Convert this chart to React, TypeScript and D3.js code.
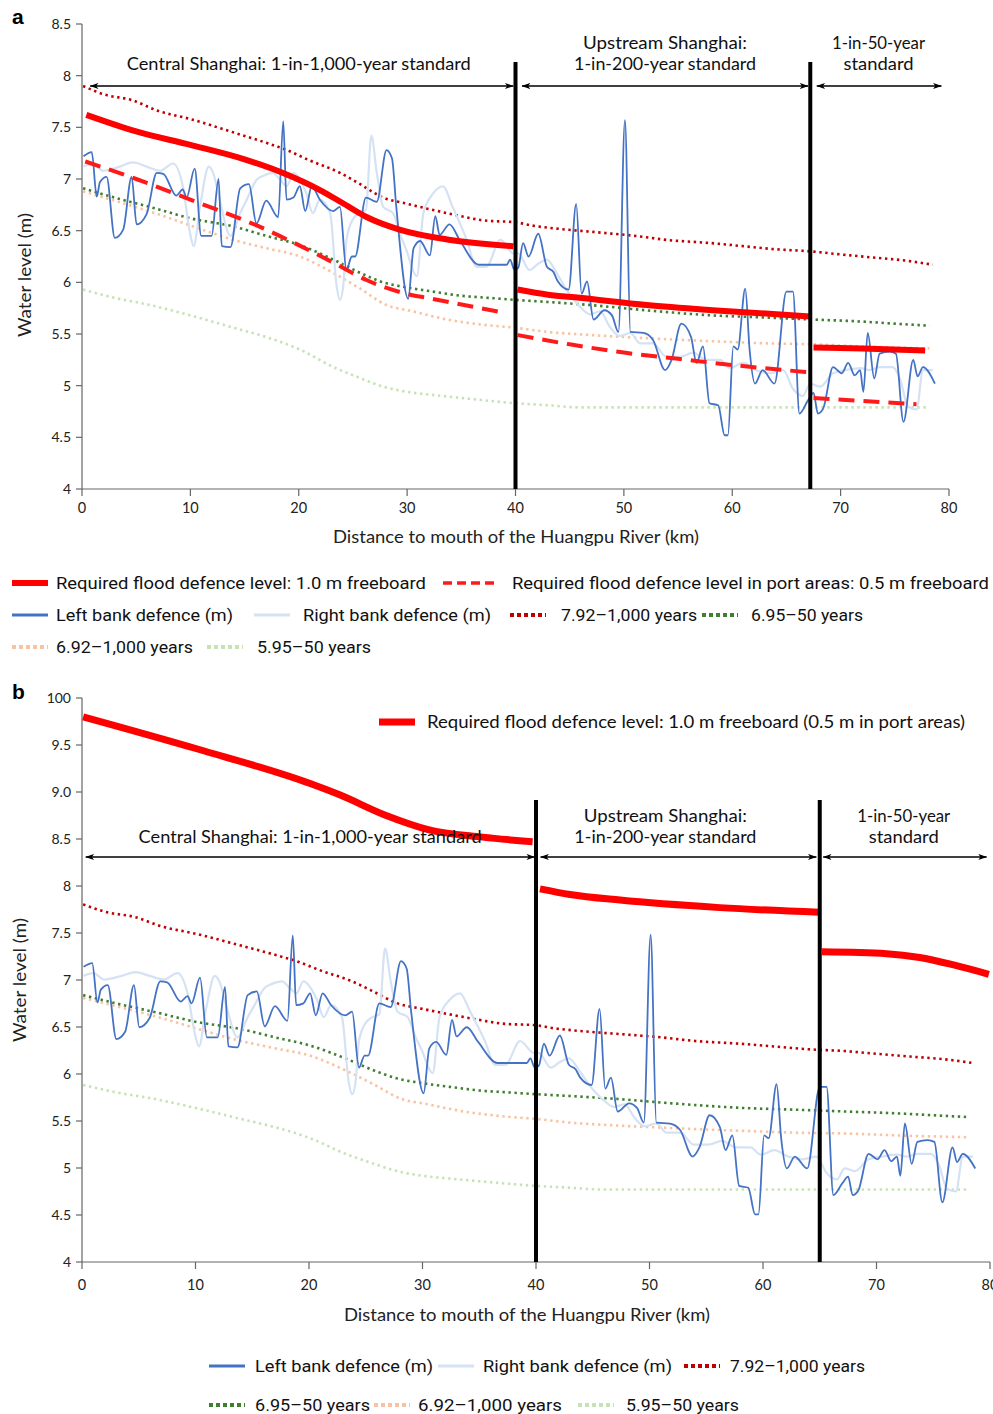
import React from 'react';
import * as d3 from 'd3';

type Pt = [number, number];

// ---- river profile (distance to mouth in km, level in m) ----
const leftBank: Pt[] = [
  [0.14, 7.22], [0.9, 7.26], [1.36, 6.83], [1.66, 6.97], [2.27, 7.02], [3.03, 6.43], [3.8, 6.51],
  [4.58, 7.02], [5.04, 6.56], [5.96, 6.66], [6.9, 7.06], [7.5, 7.05], [8.7, 6.84], [9.3, 6.9],
  [9.65, 6.82], [10.4, 7.1], [11.0, 6.45], [11.96, 6.45], [12.6, 7.0], [12.9, 6.35], [13.7, 6.34],
  [14.6, 6.91], [15.4, 6.95], [16.1, 6.57], [17.0, 6.79], [18.1, 6.63], [18.57, 7.56], [18.87, 6.8],
  [19.5, 6.82], [20.1, 6.93], [20.6, 6.69], [21.2, 6.93], [21.95, 6.8], [23.2, 6.69], [23.8, 6.73],
  [24.4, 6.12], [24.9, 6.25], [25.2, 6.25], [26.2, 6.82], [27.2, 6.78], [28.1, 7.28], [28.6, 7.2],
  [29.0, 6.73], [30.1, 5.84], [30.6, 6.33], [31.2, 6.4], [32.1, 6.26], [32.6, 6.64], [33.0, 6.46],
  [33.9, 6.56], [34.9, 6.4], [36.6, 6.17], [39.2, 6.17], [39.5, 6.22], [39.9, 6.12], [40.25, 6.14],
  [40.7, 6.38], [41.2, 6.25], [42.1, 6.47], [42.9, 6.15], [43.5, 6.1], [43.9, 6.01], [44.9, 5.93],
  [45.6, 6.76], [46.1, 5.89], [46.6, 6.01], [47.2, 5.64], [48.2, 5.73], [48.9, 5.68], [49.5, 5.52],
  [50.1, 7.57], [50.6, 5.52], [51.8, 5.51], [52.7, 5.44], [53.8, 5.15], [54.4, 5.25], [55.3, 5.6],
  [56.2, 5.47], [56.7, 5.22], [57.3, 5.38], [57.9, 4.83], [58.7, 4.81], [59.3, 4.52], [59.6, 4.52],
  [60.1, 5.38], [60.5, 5.35], [61.2, 5.94], [61.6, 5.35], [62.1, 5.02], [62.8, 5.15], [63.9, 5.02],
  [65.0, 5.91], [65.6, 5.91], [66.2, 4.73], [67.0, 4.86], [67.5, 4.93], [67.9, 4.73], [68.4, 4.78],
  [69.3, 5.18], [70.1, 5.12], [70.7, 5.22], [71.3, 5.1], [71.8, 5.15], [72.1, 4.94], [72.5, 5.51],
  [73.1, 5.07], [73.6, 5.31], [74.5, 5.33], [75.1, 5.31], [75.8, 4.65], [76.7, 5.25], [77.1, 5.09],
  [77.6, 5.18], [78.7, 5.02],
];

const rightBank: Pt[] = [
  [0.14, 7.12], [1.0, 7.15], [1.96, 7.08], [3.5, 7.12], [4.7, 7.16], [5.96, 7.12], [7.2, 7.08],
  [8.4, 7.15], [9.3, 6.93], [9.96, 6.48], [10.3, 6.35], [10.9, 6.74], [11.7, 7.12], [12.1, 7.06],
  [12.7, 6.8], [13.7, 6.45], [14.6, 6.67], [15.2, 6.8], [16.1, 6.99], [16.7, 7.03], [17.6, 7.06],
  [18.3, 6.99], [18.9, 6.93], [19.5, 7.06], [20.7, 6.86], [21.3, 6.67], [21.95, 6.8], [22.9, 6.67],
  [23.5, 5.96], [23.8, 5.83], [24.1, 5.96], [24.4, 6.41], [25.0, 6.61], [25.6, 6.67], [26.2, 6.7],
  [26.7, 7.42], [27.2, 7.06], [27.8, 6.73], [28.7, 6.67], [29.3, 6.48], [29.9, 6.32], [30.9, 6.06],
  [31.5, 6.67], [32.4, 6.86], [33.3, 6.93], [34.2, 6.73], [35.5, 6.41], [36.4, 6.15], [37.3, 6.15],
  [38.6, 6.41], [39.8, 6.28], [40.25, 6.28], [41.3, 6.12], [42.1, 6.18], [42.9, 6.22], [43.8, 6.09],
  [44.7, 5.93], [45.9, 5.77], [46.9, 5.69], [47.8, 5.72], [48.7, 5.57], [49.6, 5.48], [50.6, 5.51],
  [51.5, 5.41], [52.7, 5.41], [53.9, 5.28], [55.2, 5.28], [56.4, 5.32], [57.6, 5.25], [58.9, 5.25],
  [59.8, 5.17], [61.0, 5.22], [62.2, 5.15], [63.5, 5.12], [64.7, 5.15], [65.6, 4.97], [66.5, 4.9],
  [67.2, 5.02], [68.1, 4.99], [69.3, 5.12], [70.5, 5.15], [71.8, 5.17], [72.7, 5.15], [73.6, 5.18],
  [74.8, 5.18], [75.5, 5.06], [76.2, 4.8], [77.0, 4.77], [77.6, 5.15], [78.5, 5.15],
];

// return-period flood levels
const rp1000High: Pt[] = [
  [0.1, 7.9], [2, 7.82], [4.7, 7.76], [7, 7.66], [10, 7.58], [14, 7.45], [17, 7.35], [18.9, 7.28],
  [21, 7.18], [23.8, 7.06], [25.5, 6.96], [27.8, 6.82], [30, 6.76], [32.4, 6.7], [35, 6.64], [37, 6.6],
  [40.1, 6.58], [41.5, 6.55], [43.8, 6.52], [48, 6.48], [51, 6.45], [54, 6.41], [58, 6.38], [61, 6.35],
  [64, 6.32], [67.2, 6.3], [70, 6.27], [73, 6.24], [76, 6.21], [78.5, 6.17],
];
const rp50High: Pt[] = [
  [0.1, 6.91], [3, 6.82], [6.6, 6.72], [10, 6.62], [14, 6.54], [17, 6.45], [20.1, 6.36], [23.2, 6.22],
  [25.5, 6.1], [27.8, 6.0], [30, 5.95], [32.4, 5.91], [35, 5.87], [37.5, 5.85], [40, 5.83], [43, 5.81],
  [46.9, 5.78], [52, 5.73], [58.2, 5.68], [63, 5.66], [67.5, 5.64], [72, 5.62], [75, 5.6], [78.2, 5.58],
];
const rp1000Low: Pt[] = [
  [0.1, 6.88], [3, 6.79], [7, 6.66], [10, 6.55], [14, 6.41], [17, 6.33], [20.1, 6.25], [23.2, 6.09],
  [25.5, 5.95], [28.1, 5.78], [30.5, 5.72], [33.7, 5.64], [37, 5.59], [40, 5.56], [43, 5.52],
  [46.9, 5.49], [52, 5.46], [58.2, 5.43], [63, 5.41], [67.5, 5.4], [72, 5.38], [78.2, 5.36],
];
const rp50Low: Pt[] = [
  [0.1, 5.93], [3, 5.85], [6.3, 5.78], [10, 5.68], [14, 5.56], [17, 5.47], [20.1, 5.35], [23.2, 5.18],
  [25.5, 5.08], [27.8, 4.99], [30, 4.94], [32.4, 4.91], [36, 4.87], [40, 4.83], [43, 4.81], [45.9, 4.79],
  [52, 4.79], [58.2, 4.79], [67.5, 4.79], [78.2, 4.79],
];

// required flood defence levels (one array per standard zone)
const requiredA: Pt[][] = [
  [[0.4, 7.62], [5, 7.46], [10, 7.33], [15, 7.19], [18.5, 7.06], [22, 6.89], [24, 6.77], [26.3, 6.63], [29.3, 6.51], [34, 6.41], [39.8, 6.35]],
  [[40.2, 5.93], [43, 5.88], [45.9, 5.85], [52.1, 5.78], [58.2, 5.73], [67.2, 5.67]],
  [[67.5, 5.37], [72, 5.36], [77.8, 5.34]],
];
const requiredPortA: Pt[][] = [
  [[0.3, 7.17], [5, 7.0], [10, 6.8], [17, 6.51], [20, 6.36], [23.2, 6.19], [26.3, 6.02], [30.3, 5.88], [31.8, 5.85], [38.7, 5.71]],
  [[40.2, 5.49], [45, 5.4], [50, 5.32], [55, 5.26], [60, 5.2], [67, 5.13]],
  [[67.5, 4.88], [77, 4.82]],
];
const requiredB: Pt[][] = [
  [[0.1, 9.8], [10.1, 9.46], [20.1, 9.09], [22.7, 8.97], [26.8, 8.75], [30.5, 8.6], [35.3, 8.52], [39.7, 8.47]],
  [[40.35, 7.97], [43, 7.91], [47.4, 7.85], [56.2, 7.77], [65, 7.72]],
  [[65.2, 7.3], [70.9, 7.28], [73.8, 7.24], [76.8, 7.16], [79.9, 7.06]],
];

const dividersA = [40, 67.2];
const dividersB = [40, 65];

const xTicks = [0, 10, 20, 30, 40, 50, 60, 70, 80];
const yTicksA = [4, 4.5, 5, 5.5, 6, 6.5, 7, 7.5, 8, 8.5];
const yTickLabelsA = ['4', '4.5', '5', '5.5', '6', '6.5', '7', '7.5', '8', '8.5'];
const yTicksB = [4, 4.5, 5, 5.5, 6, 6.5, 7, 7.5, 8, 8.5, 9, 9.5, 10];
const yTickLabelsB = ['4', '4.5', '5', '5.5', '6', '6.5', '7', '7.5', '8', '8.5', '9.0', '9.5', '100'];

const zoneLabels = [
  ['Central Shanghai: 1-in-1,000-year standard'],
  ['Upstream Shanghai:', '1-in-200-year standard'],
  ['1-in-50-year', 'standard'],
];

const FONT = 'Lato, "Open Sans", sans-serif';
const NARROW = '"Liberation Sans Narrow", Roboto, sans-serif';

const DOT = '2.4 3.6';
const STYLE: Record<string, { color: string; width: number; dash?: string }> = {
  req: { color: '#ff0000', width: 6 },
  port: { color: '#ff1a1a', width: 4, dash: '16 9' },
  left: { color: '#4472c4', width: 1.8 },
  right: { color: '#d5e2f4', width: 2.2 },
  p1000h: { color: '#c00000', width: 2.6, dash: DOT },
  p50h: { color: '#3f7f2f', width: 2.6, dash: DOT },
  p1000l: { color: '#f7c3a3', width: 2.6, dash: DOT },
  p50l: { color: '#c6e3b6', width: 2.6, dash: DOT },
};

const SERIES: { key: string; data: Pt[] }[] = [
  { key: 'p50l', data: rp50Low },
  { key: 'p1000l', data: rp1000Low },
  { key: 'p50h', data: rp50High },
  { key: 'p1000h', data: rp1000High },
  { key: 'right', data: rightBank },
  { key: 'left', data: leftBank },
];

type Zone = { from: number; to: number; cx: number; lineY: number[]; widths: number[] };
type PanelCfg = {
  letter: string; letterY: number;
  xRange: [number, number]; yDomain: [number, number]; yRange: [number, number];
  profileTop: number; // panel b draws the shared profile slightly compressed
  yTicks: number[]; yLabels: string[];
  xLabelY: number; xTitleX: number; xTitleY: number; yTitleX: number; yTitleY: number;
  required: Pt[][]; reqWidth: number; port?: Pt[][];
  dividers: number[]; divTop: number;
  arrowY: number; zones: Zone[];
};

function Panel({ p }: { p: PanelCfg }) {
  const x = d3.scaleLinear().domain([0, 80]).range(p.xRange);
  const y = d3.scaleLinear().domain(p.yDomain).range(p.yRange);
  const yProfile = d3.scaleLinear().domain([p.yDomain[0], p.profileTop]).range(p.yRange);
  const line = d3.line<Pt>().x(d => x(d[0])).y(d => y(d[1])).curve(d3.curveMonotoneX);
  const profileLine = d3.line<Pt>().x(d => x(d[0])).y(d => yProfile(d[1])).curve(d3.curveMonotoneX);
  const bottom = p.yRange[0];
  const left = p.xRange[0];
  const axisColor = '#666';
  return (
    <g>
      <text x={12} y={p.letterY} fontFamily="Arial, sans-serif" fontWeight="bold" fontSize={21}>{p.letter}</text>
      {/* axes */}
      <line x1={left} x2={left} y1={p.yRange[1]} y2={bottom} stroke={axisColor} strokeWidth={1.2} />
      <line x1={left} x2={Math.max(...p.xRange)} y1={bottom} y2={bottom} stroke={axisColor} strokeWidth={1.2} />
      {p.yTicks.map((t, i) => (
        <g key={'y' + t}>
          <line x1={left - 6} x2={left} y1={y(t)} y2={y(t)} stroke={axisColor} strokeWidth={1.2} />
          <text x={left - 11} y={y(t)} dy="0.35em" textAnchor="end" fontFamily={FONT} fontSize={14} fill="#222">{p.yLabels[i]}</text>
        </g>
      ))}
      {xTicks.map(t => (
        <g key={'x' + t}>
          <line x1={x(t)} x2={x(t)} y1={bottom} y2={bottom + 7} stroke={axisColor} strokeWidth={1.2} />
          <text x={x(t)} y={p.xLabelY} dy="0.35em" textAnchor="middle" fontFamily={FONT} fontSize={14.5} fill="#222">{t}</text>
        </g>
      ))}
      <text x={p.xTitleX} y={p.xTitleY} dy="0.35em" textAnchor="middle" fontFamily={FONT} fontSize={16.5}
        textLength={366} lengthAdjust="spacingAndGlyphs" fill="#222">Distance to mouth of the Huangpu River (km)</text>
      <text transform={`translate(${p.yTitleX},${p.yTitleY}) rotate(-90)`} dy="0.35em" textAnchor="middle" fontFamily={FONT} fontSize={16.5}
        textLength={124} lengthAdjust="spacingAndGlyphs" fill="#222">Water level (m)</text>

      {/* series */}
      {SERIES.map(s => (
        <path key={s.key} d={profileLine(s.data) ?? ''} fill="none" stroke={STYLE[s.key].color} strokeWidth={STYLE[s.key].width}
          strokeDasharray={STYLE[s.key].dash} strokeLinecap="butt" strokeLinejoin="round" />
      ))}
      {p.port && p.port.map((seg, i) => (
        <path key={'port' + i} d={line(seg) ?? ''} fill="none" stroke={STYLE.port.color} strokeWidth={STYLE.port.width} strokeDasharray={STYLE.port.dash} />
      ))}
      {p.required.map((seg, i) => (
        <path key={'req' + i} d={line(seg) ?? ''} fill="none" stroke={STYLE.req.color} strokeWidth={p.reqWidth} />
      ))}

      {/* zone dividers + annotations */}
      {p.dividers.map(d => (
        <line key={'d' + d} x1={x(d)} x2={x(d)} y1={p.divTop} y2={bottom} stroke="#000" strokeWidth={4} />
      ))}
      {p.zones.map((z, i) => (
        <g key={'z' + i}>
          <line x1={x(z.from)} x2={x(z.to)} y1={p.arrowY} y2={p.arrowY} stroke="#000" strokeWidth={1.4}
            markerStart="url(#arr)" markerEnd="url(#arr)" />
          {zoneLabels[i].map((txt, j) => (
            <text key={j} x={x(z.cx)} y={z.lineY[j]} dy="0.35em" textAnchor="middle" fontFamily={FONT} fontSize={16.5}
              textLength={z.widths[j]} lengthAdjust="spacingAndGlyphs" fill="#111">{txt}</text>
          ))}
        </g>
      ))}
    </g>
  );
}

function Swatch({ k, x1, x2, y }: { k: string; x1: number; x2: number; y: number }) {
  const s = STYLE[k];
  let width = 3;
  let dash: string | undefined;
  if (k === 'req') width = 6;
  if (k === 'port') { width = 3.5; dash = '9 5'; }
  if (k.startsWith('p') && k !== 'port') { width = 4; dash = '4 3'; }
  return <line x1={x1} x2={x2} y1={y} y2={y} stroke={s.color} strokeWidth={width} strokeDasharray={dash} />;
}

type LegendItem = { k: string; label: string; x: number; y: number; w: number };

const legendA: LegendItem[] = [
  { k: 'req', label: 'Required flood defence level: 1.0 m freeboard', x: 12, y: 583, w: 370 },
  { k: 'port', label: 'Required flood defence level in port areas: 0.5 m freeboard', x: 443, y: 583, w: 477 },
  { k: 'left', label: 'Left bank defence (m)', x: 12, y: 615, w: 177 },
  { k: 'right', label: 'Right bank defence (m)', x: 254, y: 615, w: 188 },
  { k: 'p1000h', label: '7.92–1,000 years', x: 510, y: 615, w: 136 },
  { k: 'p50h', label: '6.95–50 years', x: 702, y: 615, w: 112 },
  { k: 'p1000l', label: '6.92–1,000 years', x: 12, y: 647, w: 137 },
  { k: 'p50l', label: '5.95–50 years', x: 207, y: 647, w: 114 },
];
const legendGapA: Record<string, number> = { req: 44, port: 69, left: 44, right: 49, p1000h: 51, p50h: 49, p1000l: 44, p50l: 50 };

const legendB: LegendItem[] = [
  { k: 'left', label: 'Left bank defence (m)', x: 209, y: 1366, w: 178 },
  { k: 'right', label: 'Right bank defence (m)', x: 438, y: 1366, w: 189 },
  { k: 'p1000h', label: '7.92–1,000 years', x: 684, y: 1366, w: 135 },
  { k: 'p50h', label: '6.95–50 years', x: 209, y: 1405, w: 115 },
  { k: 'p1000l', label: '6.92–1,000 years', x: 374, y: 1405, w: 144 },
  { k: 'p50l', label: '5.95–50 years', x: 578, y: 1405, w: 113 },
];
const legendGapB: Record<string, number> = { left: 46, right: 45, p1000h: 46, p50h: 46, p1000l: 44, p50l: 48 };

function Legend({ items, gaps }: { items: LegendItem[]; gaps: Record<string, number> }) {
  return (
    <g>
      {items.map(it => (
        <g key={it.k + it.y}>
          <Swatch k={it.k} x1={it.x} x2={it.x + (it.k === 'port' ? 54 : 36)} y={it.y} />
          <text x={it.x + gaps[it.k]} y={it.y} dy="0.35em" fontFamily={NARROW} fontSize={17} textLength={it.w}
            lengthAdjust="spacingAndGlyphs" fill="#111">{it.label}</text>
        </g>
      ))}
    </g>
  );
}

const panelA: PanelCfg = {
  letter: 'a', letterY: 24,
  xRange: [82, 949], yDomain: [4, 8.5], yRange: [489, 24], profileTop: 8.5,
  yTicks: yTicksA, yLabels: yTickLabelsA,
  xLabelY: 508, xTitleX: 516, xTitleY: 537, yTitleX: 25, yTitleY: 275,
  required: requiredA, reqWidth: 6, port: requiredPortA,
  dividers: dividersA, divTop: 62,
  arrowY: 86,
  zones: [
    { from: 0.75, to: 39.8, cx: 20.0, lineY: [64], widths: [344] },
    { from: 40.6, to: 67.0, cx: 53.8, lineY: [43, 64], widths: [164, 182] },
    { from: 67.8, to: 79.3, cx: 73.5, lineY: [43, 64], widths: [93, 70] },
  ],
};

const panelB: PanelCfg = {
  letter: 'b', letterY: 699,
  xRange: [82, 990], yDomain: [4, 10], yRange: [1262, 698], profileTop: 10.15,
  yTicks: yTicksB, yLabels: yTickLabelsB,
  xLabelY: 1285, xTitleX: 527, xTitleY: 1315, yTitleX: 20, yTitleY: 980,
  required: requiredB, reqWidth: 7,
  dividers: dividersB, divTop: 800,
  arrowY: 857,
  zones: [
    { from: 0.33, to: 39.9, cx: 20.1, lineY: [837], widths: [343] },
    { from: 40.4, to: 64.7, cx: 51.4, lineY: [816, 837], widths: [163, 182] },
    { from: 65.3, to: 79.7, cx: 72.4, lineY: [816, 837], widths: [93, 70] },
  ],
};

export default function App() {
  return (
    <div>
      <style>{`body{margin:0;background:#fff}`}</style>
      <svg width={993} height={1414} viewBox="0 0 993 1414" style={{ display: 'block' }}>
        <defs>
          <marker id="arr" viewBox="0 0 10 8" refX={9.5} refY={4} markerWidth={9} markerHeight={7}
            markerUnits="userSpaceOnUse" orient="auto-start-reverse">
            <path d="M0,0.5 L10,4 L0,7.5 L2.5,4 Z" fill="#000" />
          </marker>
        </defs>
        <rect width={993} height={1414} fill="#fff" />
        <Panel p={panelA} />
        <Legend items={legendA} gaps={legendGapA} />
        <Panel p={panelB} />
        {/* in-plot legend of panel b */}
        <line x1={379} x2={415} y1={722} y2={722} stroke={STYLE.req.color} strokeWidth={7} />
        <text x={427} y={722} dy="0.35em" fontFamily={FONT} fontSize={16.5} textLength={538} lengthAdjust="spacingAndGlyphs"
          fill="#111">Required flood defence level: 1.0 m freeboard (0.5 m in port areas)</text>
        <Legend items={legendB} gaps={legendGapB} />
      </svg>
    </div>
  );
}
